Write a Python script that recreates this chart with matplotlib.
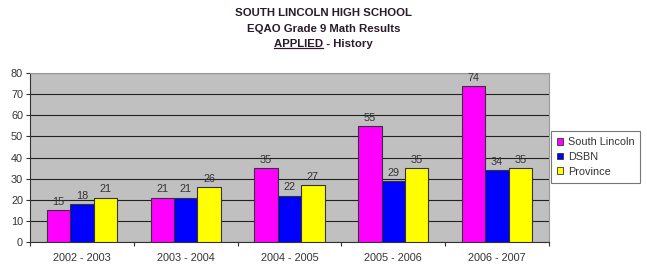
import matplotlib
matplotlib.use("Agg")
import matplotlib.pyplot as plt
import numpy as np
from matplotlib.lines import Line2D

plt.rcParams['font.family'] = ['Liberation Sans', 'DejaVu Sans']

categories = ["2002 - 2003", "2003 - 2004", "2004 - 2005", "2005 - 2006", "2006 - 2007"]
south_lincoln = [15, 21, 35, 55, 74]
dsbn = [18, 21, 22, 29, 34]
province = [21, 26, 27, 35, 35]
series_names = ["South Lincoln", "DSBN", "Province"]
colors = ["#ff00ff", "#0000ff", "#ffff00"]

fig = plt.figure(figsize=(6.47, 2.67), dpi=100)
ax = fig.add_axes([30/647, 1-242/267, (549-30)/647, (242-73)/267])
ax.set_facecolor("#c0c0c0")

x = np.arange(len(categories))
w = 0.225
for i, (vals, c, name) in enumerate(zip([south_lincoln, dsbn, province], colors, series_names)):
    pos = x + (i - 1) * w
    ax.bar(pos, vals, width=w, color=c, edgecolor="#333333", linewidth=0.8, label=name, zorder=3)
    for p, v in zip(pos, vals):
        ax.text(p, v + 1.5, str(v), ha="center", va="bottom", fontsize=7.8, color="#333333", zorder=4)

ax.set_xlim(-0.5, len(categories) - 0.5)
ax.set_ylim(0, 80)
ax.set_yticks(range(0, 81, 10))
ax.tick_params(axis="y", labelsize=7.8, length=3, width=0.8, colors="#333333", pad=2)
ax.yaxis.grid(True, color="#222222", linewidth=0.8, zorder=0)
ax.set_axisbelow(True)

ax.set_xticks(x)
ax.set_xticklabels(categories, fontsize=7.8, color="#333333")
ax.tick_params(axis="x", length=0, pad=8)
ax.set_xticks(np.arange(-0.5, len(categories)), minor=True)
ax.tick_params(axis="x", which="minor", length=3, width=0.8, color="#333333")

for s in ["top", "right"]:
    ax.spines[s].set_color("#999999")
    ax.spines[s].set_linewidth(0.8)
ax.spines["left"].set_color("#333333")
ax.spines["bottom"].set_color("#333333")

handles = [plt.Rectangle((0, 0), 1, 1, facecolor=c, edgecolor="#333333", linewidth=0.6) for c in colors]
leg = fig.legend(handles, series_names, loc="upper left", bbox_to_anchor=(551/647, 1-131/267),
                 fontsize=7.8, frameon=True, fancybox=False, edgecolor="#555555",
                 handlelength=0.6, handleheight=0.6, handletextpad=0.4, borderpad=0.55,
                 labelspacing=0.45, borderaxespad=0)
leg.get_frame().set_linewidth(0.8)
for t in leg.get_texts():
    t.set_color("#333333")

tc = "#2a1a2a"
fs = 8.2
fig.text(0.5, 1-13/267, "SOUTH LINCOLN HIGH SCHOOL", ha="center", va="center", fontsize=fs, fontweight="bold", color=tc)
fig.text(0.5, 1-29/267, "EQAO Grade 9 Math Results", ha="center", va="center", fontsize=fs, fontweight="bold", color=tc)
t1 = fig.text(0.5, 1-44/267, "APPLIED - History", ha="center", va="center", fontsize=fs, fontweight="bold", color=tc)

fig.canvas.draw()
r = fig.canvas.get_renderer()
bb_full = t1.get_window_extent(r)
tmp = fig.text(0, 0, "APPLIED", fontsize=fs, fontweight="bold")
bb_a = tmp.get_window_extent(r)
tmp.remove()
x0 = bb_full.x0
x1 = bb_full.x0 + bb_a.width
yl = bb_full.y0 + 1
fig.add_artist(Line2D([x0, x1], [yl, yl], transform=None, color=tc, linewidth=0.9))

fig.savefig("out.png", dpi=100)
